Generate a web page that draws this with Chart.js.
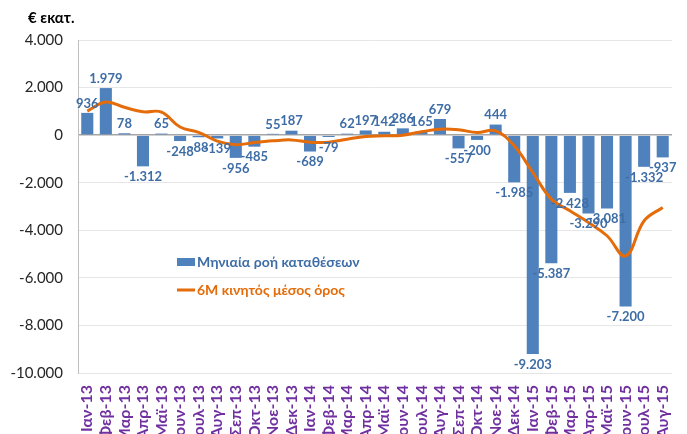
<!DOCTYPE html>
<html>
<head>
<meta charset="utf-8">
<script src="https://cdn.jsdelivr.net/npm/chart.js@4.4.1/dist/chart.umd.min.js"></script>
<style>
    html, body { margin: 0; padding: 0; background: #fff; overflow: hidden; }
    #wrap { width: 687px; height: 434px; }
</style>
</head>
<body>
<div id="wrap"><canvas id="depositChart" width="687" height="434"></canvas></div>
<script>
// Monthly deposit flows (€ mn) and 6-month moving average
const months = [
    'Ιαν-13', 'Φεβ-13', 'Μαρ-13', 'Απρ-13', 'Μαϊ-13', 'Ιουν-13', 'Ιουλ-13', 'Αυγ-13',
    'Σεπ-13', 'Οκτ-13', 'Νοε-13', 'Δεκ-13', 'Ιαν-14', 'Φεβ-14', 'Μαρ-14', 'Απρ-14',
    'Μαϊ-14', 'Ιουν-14', 'Ιουλ-14', 'Αυγ-14', 'Σεπ-14', 'Οκτ-14', 'Νοε-14', 'Δεκ-14',
    'Ιαν-15', 'Φεβ-15', 'Μαρ-15', 'Απρ-15', 'Μαϊ-15', 'Ιουν-15', 'Ιουλ-15', 'Αυγ-15'
];
const monthlyFlow = [
    936, 1979, 78, -1312, 65, -248, -88, -139,
    -956, -485, 55, 187, -689, -79, 62, 197,
    142, 286, 165, 679, -557, -200, 444, -1985,
    -9203, -5387, -2428, -3290, -3081, -7200, -1332, -937
];
const movingAvg = [
    1010, 1390, 1170, 980, 970, 340, 120, -250,
    -400, -310, -240, -200, -300, -300, -170, -60,
    -30, 0, 140, 250, 225, 110, 180, -450,
    -1570, -2690, -3180, -3670, -4230, -5080, -3600, -3040
];
const yTicks = [4000, 2000, 0, -2000, -4000, -6000, -8000, -10000];

const seriesNames = ['Μηνιαία ροή καταθέσεων', '6Μ κινητός μέσος όρος'];
const unitLabel = '€ εκατ.';

const BLUE = '#4F81BD';
const ORANGE = '#E46C0A';
const LABEL_BLUE = '#3E6DA6';
const FONT = "Lato, 'Open Sans', sans-serif";

function fmt(v) {
    const s = Math.abs(v).toString().replace(/\B(?=(\d{3})+(?!\d))/g, '.');
    return (v < 0 ? '-' : '') + s;
}

// Bar value labels, unit caption and legend
const decorPlugin = {
    id: 'decor',
    afterDatasetsDraw(chart) {
        const ctx = chart.ctx;
        const meta = chart.getDatasetMeta(0);
        ctx.save();
        ctx.font = "bold 13px " + FONT;
        ctx.fillStyle = LABEL_BLUE;
        ctx.textAlign = 'center';
        meta.data.forEach(function (bar, i) {
            const v = monthlyFlow[i];
            if (v >= 0) {
                ctx.textBaseline = 'bottom';
                ctx.fillText(fmt(v), bar.x, bar.y - 3);
            } else {
                ctx.textBaseline = 'top';
                ctx.fillText(fmt(v), bar.x, bar.y + 4);
            }
        });
        ctx.restore();
    },
    afterDraw(chart) {
        const ctx = chart.ctx;
        ctx.save();
        // unit caption
        ctx.font = "bold 15px " + FONT;
        ctx.fillStyle = '#000';
        ctx.textAlign = 'left';
        ctx.textBaseline = 'middle';
        ctx.fillText(unitLabel, 28, 18);

        // legend
        ctx.font = "bold 14px " + FONT;
        ctx.fillStyle = BLUE;
        ctx.fillRect(177, 258, 18, 8);
        ctx.fillStyle = LABEL_BLUE;
        ctx.fillText(seriesNames[0], 197, 262);

        ctx.strokeStyle = ORANGE;
        ctx.lineWidth = 3;
        ctx.beginPath();
        ctx.moveTo(177, 290);
        ctx.lineTo(195, 290);
        ctx.stroke();
        ctx.fillStyle = ORANGE;
        ctx.fillText(seriesNames[1], 197, 290);
        ctx.restore();
    }
};

function initDepositChart() {
    const ctx = document.getElementById('depositChart');
    if (!ctx) return;

    const data = {
        labels: months,
        datasets: [
            {
                type: 'bar',
                label: seriesNames[0],
                data: monthlyFlow,
                backgroundColor: BLUE,
                barPercentage: 0.65,
                categoryPercentage: 1.0,
                order: 2
            },
            {
                type: 'line',
                label: seriesNames[1],
                data: movingAvg,
                borderColor: ORANGE,
                borderWidth: 3,
                tension: 0.4,
                pointRadius: 0,
                fill: false,
                order: 1
            }
        ]
    };

    const config = {
        type: 'bar',
        data: data,
        options: {
            responsive: false,
            animation: false,
            layout: {
                padding: { top: 40, right: 15, left: 0, bottom: 0 }
            },
            plugins: {
                legend: { display: false },
                tooltip: { enabled: false }
            },
            scales: {
                x: {
                    grid: { display: false },
                    border: { display: false },
                    ticks: {
                        autoSkip: false,
                        minRotation: 90,
                        maxRotation: 90,
                        padding: 4,
                        color: '#7030A0',
                        font: { size: 16, weight: 'bold', family: FONT }
                    },
                    afterFit: function (scale) { scale.height = 61; }
                },
                y: {
                    min: -10000,
                    max: 4000,
                    afterBuildTicks: function (scale) {
                        scale.ticks = yTicks.map(function (v) { return { value: v }; });
                    },
                    grid: {
                        drawTicks: false,
                        color: function (c) {
                            return c.tick && c.tick.value === 0 ? '#A6A6A6' : '#E6E6E6';
                        },
                        lineWidth: function (c) {
                            return c.tick && c.tick.value === 0 ? 1.5 : 1;
                        }
                    },
                    border: { display: true, color: '#BFBFBF' },
                    ticks: {
                        padding: 15,
                        color: '#262626',
                        font: { size: 15, family: FONT },
                        callback: function (value) { return fmt(value); }
                    },
                    afterFit: function (scale) { scale.width = 78; }
                }
            }
        },
        plugins: [decorPlugin]
    };

    new Chart(ctx, config);
}

initDepositChart();
</script>
</body>
</html>
